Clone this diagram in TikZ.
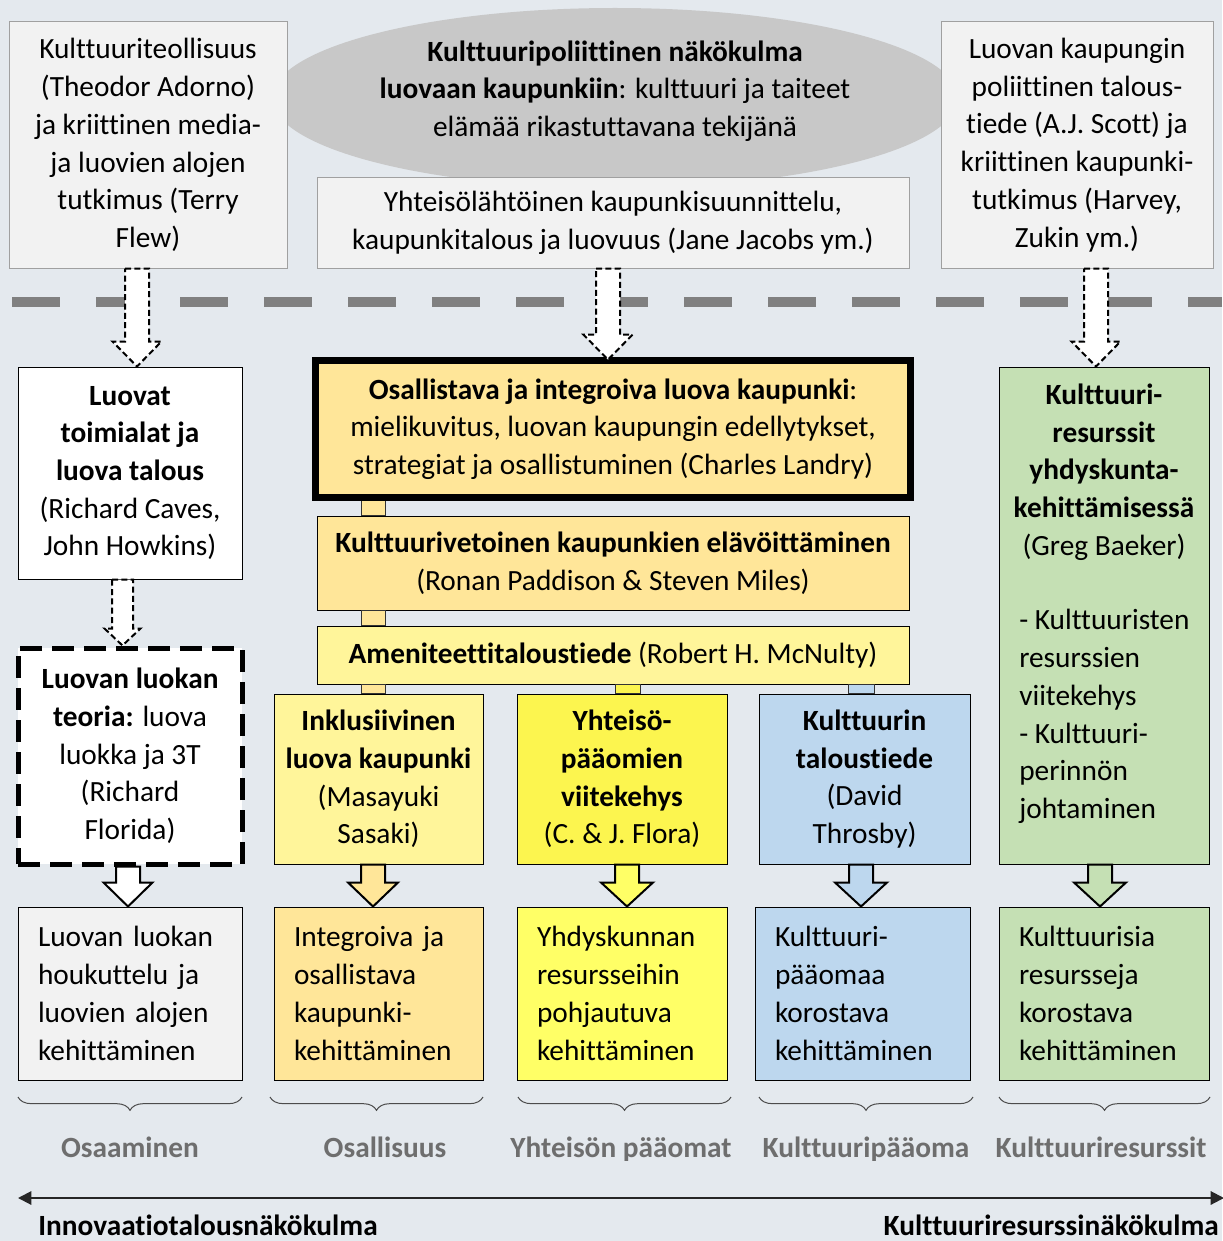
\documentclass[tikz,border=0pt]{standalone}
\usepackage{fontspec}
\setmainfont{Carlito}[Ligatures=NoCommon]
\usetikzlibrary{calc,arrows.meta,decorations.pathreplacing,shapes.geometric}
\definecolor{bgc}{HTML}{E4E9EE}
\definecolor{lightg}{HTML}{F2F2F2}
\definecolor{boxline}{HTML}{A0A0A0}
\definecolor{ellg}{HTML}{C8C8C8}
\definecolor{orng}{HTML}{FFE699}
\definecolor{paley}{HTML}{FFF59A}
\definecolor{brighty}{HTML}{FCF54F}
\definecolor{lemon}{HTML}{FFFF66}
\definecolor{blu}{HTML}{BDD7EE}
\definecolor{grn}{HTML}{C5E0B4}
\definecolor{sepgrey}{HTML}{808080}
\definecolor{lab}{HTML}{6E6E6E}
\newcommand\blkarrow[6]{%
  \draw[#1] let \p1=(#2), \p2=(#3) in
  (\x1-#4*0.75pt,\y1) -- (\x1+#4*0.75pt,\y1) -- (\x1+#4*0.75pt,\y2+#6*0.75pt)
  -- (\x1+#5*0.75pt,\y2+#6*0.75pt) -- (\x1,\y2) -- (\x1-#5*0.75pt,\y2+#6*0.75pt)
  -- (\x1-#4*0.75pt,\y2+#6*0.75pt) -- cycle;}
\begin{document}
\begin{tikzpicture}[x=0.75pt,y=-0.75pt,
  every node/.style={font=\fontsize{22}{28.3}\selectfont, inner sep=0pt},
  sz/.style 2 args={minimum width=#1*0.75pt, minimum height=#2*0.75pt},
  greybox/.style={draw=boxline, fill=lightg, line width=0.75pt, align=center},
  box/.style={draw=black, line width=0.75pt, align=center},
  lbox/.style={draw=black, line width=0.75pt, align=left, text width=#1*0.75pt},
  dasharr/.style={draw=black, fill=white, line width=1.5pt, dash pattern=on 4.5pt off 2.5pt},
  solarr/.style={draw=black, line width=1.5pt, line join=miter},
  stub/.style={draw=black!80, line width=0.6pt},
  brc/.style={draw=black!70, line width=0.75pt, decorate, decoration={brace, mirror, amplitude=10pt}},
  labl/.style={font=\fontsize{22}{24}\selectfont\bfseries, text=lab, anchor=base}
]
\useasboundingbox (0,0) rectangle (1222,1241);
\fill[bgc] (0,0) rectangle (1222,1241);

% ---------- top row ----------
\node[ellipse, fill=ellg, sz={686}{180}] (ell) at (615,98) {};
\node[align=center] (ellT) at (615,91) {\textbf{Kulttuuripoliittinen näkökulma}\\\textbf{luovaan kaupunkiin}: kulttuuri ja taiteet\\elämää rikastuttavana tekijänä};

\node[greybox, sz={278}{246}] (tl) at (148,145) {Kulttuuriteollisuus\\(Theodor Adorno)\\ja kriittinen media-\\ja luovien alojen\\tutkimus (Terry\\Flew)};
\node[greybox, sz={592}{90}] (mid) at (613,223) {Yhteisölähtöinen kaupunkisuunnittelu,\\kaupunkitalous ja luovuus (Jane Jacobs ym.)};
\node[greybox, sz={272}{246}] (tr) at (1077,145) {Luovan kaupungin\\poliittinen talous-\\tiede (A.J. Scott) ja\\kriittinen kaupunki-\\tutkimus (Harvey,\\Zukin ym.)};

% dashed separator
\draw[sepgrey, line width=7.5pt, dash pattern=on 36pt off 27pt] (12,302) -- (1222,302);

% ---------- second row ----------
\node[box, fill=white, sz={224}{212}] (luovat) at (130,473) {\textbf{Luovat}\\\textbf{toimialat ja}\\\textbf{luova talous}\\(Richard Caves,\\John Howkins)};
\node[box, fill=white, draw=black, line width=3.75pt, dash pattern=on 16.5pt off 7.5pt, sz={224}{216}] (florida) at (130,756) {\textbf{Luovan luokan}\\\textbf{teoria:} luova\\luokka ja 3T\\(Richard\\Florida)};

\node[box, fill=orng, line width=3.5pt, sz={592}{134}] (landry) at (613,429) {\textbf{Osallistava ja integroiva luova kaupunki}:\\mielikuvitus, luovan kaupungin edellytykset,\\strategiat ja osallistuminen (Charles Landry)};
\node[box, fill=orng, sz={592}{94}] (padd) at (613,563) {\textbf{Kulttuurivetoinen kaupunkien elävöittäminen}\\(Ronan Paddison \& Steven Miles)};
\node[box, fill=paley, sz={592}{58}] (mcn) at (613,655) {\textbf{Ameniteettitaloustiede} (Robert H. McNulty)};

\node[box, fill=paley, sz={209}{170}] (sasaki) at (378.5,779) {\textbf{Inklusiivinen}\\\textbf{luova kaupunki}\\(Masayuki\\Sasaki)};
\node[box, fill=brighty, sz={210}{170}] (flora) at (622,779) {\textbf{Yhteisö-}\\\textbf{pääomien}\\\textbf{viitekehys}\\(C. \& J. Flora)};
\node[box, fill=blu, sz={211}{170}] (throsby) at (864.5,779) {\textbf{Kulttuurin}\\\textbf{taloustiede}\\(David\\Throsby)};
\node[box, fill=grn, sz={210}{497}] (baeker) at (1104,615.5) {};
\node[align=center] (baekerH) at (1104,472) {\textbf{Kulttuuri-}\\\textbf{resurssit}\\\textbf{yhdyskunta-}\\\textbf{kehittämisessä}\\(Greg Baeker)};
\node[align=left, anchor=west] (baekerL) at (1019,716.5) {- Kulttuuristen\\resurssien\\viitekehys\\- Kulttuuri-\\perinnön\\johtaminen};

% stubs between central boxes
\coordinate (sa) at (361,0); \coordinate (sb) at (385,0);
\coordinate (sc) at (615,0); \coordinate (sd) at (640,0);
\coordinate (se) at (848,0); \coordinate (sf) at (874,0);
\draw[stub, fill=orng] (sa |- landry.south) rectangle (sb |- padd.north);
\draw[stub, fill=orng] (sa |- padd.south) rectangle (sb |- mcn.north);
\draw[stub, fill=orng] (sa |- mcn.south) rectangle (sb |- sasaki.north);
\draw[stub, fill=brighty] (sc |- mcn.south) rectangle (sd |- flora.north);
\draw[stub, fill=blu] (se |- mcn.south) rectangle (sf |- throsby.north);
\draw[line width=3.5pt] (landry.south west) rectangle (landry.north east);

% ---------- bottom row ----------
\node[lbox=184, fill=lightg, sz={224}{173}] (b1) at (130,993.5) {Luovan luokan\\houkuttelu ja\\luovien alojen\\kehittäminen};
\node[lbox=169, fill=orng, sz={209}{173}] (b2) at (378.5,993.5) {Integroiva ja\\osallistava\\kaupunki-\\kehittäminen};
\node[lbox=170, fill=lemon, sz={210}{173}] (b3) at (622,993.5) {Yhdyskunnan\\resursseihin\\pohjautuva\\kehittäminen};
\node[lbox=175, fill=blu, sz={215}{173}] (b4) at (862.5,993.5) {Kulttuuri-\\pääomaa\\korostava\\kehittäminen};
\node[lbox=170, fill=grn, sz={210}{173}] (b5) at (1104,993.5) {Kulttuurisia\\resursseja\\korostava\\kehittäminen};

% ---------- block arrows ----------
\coordinate (x1) at (137,0); \coordinate (x2) at (608,0); \coordinate (x3) at (1096,0);
\blkarrow{dasharr}{x1 |- tl.south}{x1 |- luovat.north}{12}{24.5}{25}
\blkarrow{dasharr}{x2 |- mid.south}{x2 |- landry.north}{12}{24.5}{25}
\blkarrow{dasharr}{x3 |- tr.south}{x3 |- baeker.north}{12}{24.5}{25}
\coordinate (x4) at (122.5,0);
\blkarrow{dasharr}{x4 |- luovat.south}{x4 |- florida.north}{10.5}{18}{17}

\coordinate (y1) at (128,0); \coordinate (y2) at (373,0); \coordinate (y3) at (627,0);
\coordinate (y4) at (861,0); \coordinate (y5) at (1100,0);
\blkarrow{solarr, fill=white}{y1 |- florida.south}{y1 |- b1.north}{12}{24.5}{24}
\blkarrow{solarr, fill=orng}{y2 |- sasaki.south}{y2 |- b2.north}{12}{25}{24}
\blkarrow{solarr, fill=lemon}{y3 |- flora.south}{y3 |- b3.north}{12}{26}{24}
\blkarrow{solarr, fill=blu}{y4 |- throsby.south}{y4 |- b4.north}{12}{26}{24}
\blkarrow{solarr, fill=grn}{y5 |- baeker.south}{y5 |- b5.north}{12}{26}{24}

% ---------- braces ----------
\coordinate (br1a) at (18,1097); \coordinate (br1b) at (242,1097);
\coordinate (br2a) at (270,1097); \coordinate (br2b) at (483,1097);
\coordinate (br3a) at (518,1097); \coordinate (br3b) at (731,1097);
\coordinate (br4a) at (759,1097); \coordinate (br4b) at (973,1097);
\coordinate (br5a) at (999,1097); \coordinate (br5b) at (1210,1097);
\draw[brc] (br1a) -- (br1b);
\draw[brc] (br2a) -- (br2b);
\draw[brc] (br3a) -- (br3b);
\draw[brc] (br4a) -- (br4b);
\draw[brc] (br5a) -- (br5b);

\begin{scope}
\clip (0,1125) rectangle (1222,1160);
\node[labl] (l1) at (130,1157) {Osaaminen};
\node[labl] (l2) at (385,1157) {Osallisuus};
\node[labl] (l3) at (621,1157) {Yhteisön pääomat};
\node[labl] (l4) at (866,1157) {Kulttuuripääoma};
\node[labl] (l5) at (1101,1157) {Kulttuuriresurssit};
\end{scope}

% ---------- axis ----------
\coordinate (axL) at (18,1198); \coordinate (axR) at (1224,1198);
\draw[line width=1.5pt, black!85, {Triangle[length=10pt,width=10pt]}-{Triangle[length=10pt,width=10pt]}] (axL) -- (axR);
\node[font=\fontsize{22}{24}\selectfont\bfseries, anchor=west] (innov) at (38,1225) {Innovaatiotalousnäkökulma};
\node[font=\fontsize{22}{24}\selectfont\bfseries, anchor=east] (kultt) at (1219,1225) {Kulttuuriresurssinäkökulma};
\end{tikzpicture}
\end{document}
